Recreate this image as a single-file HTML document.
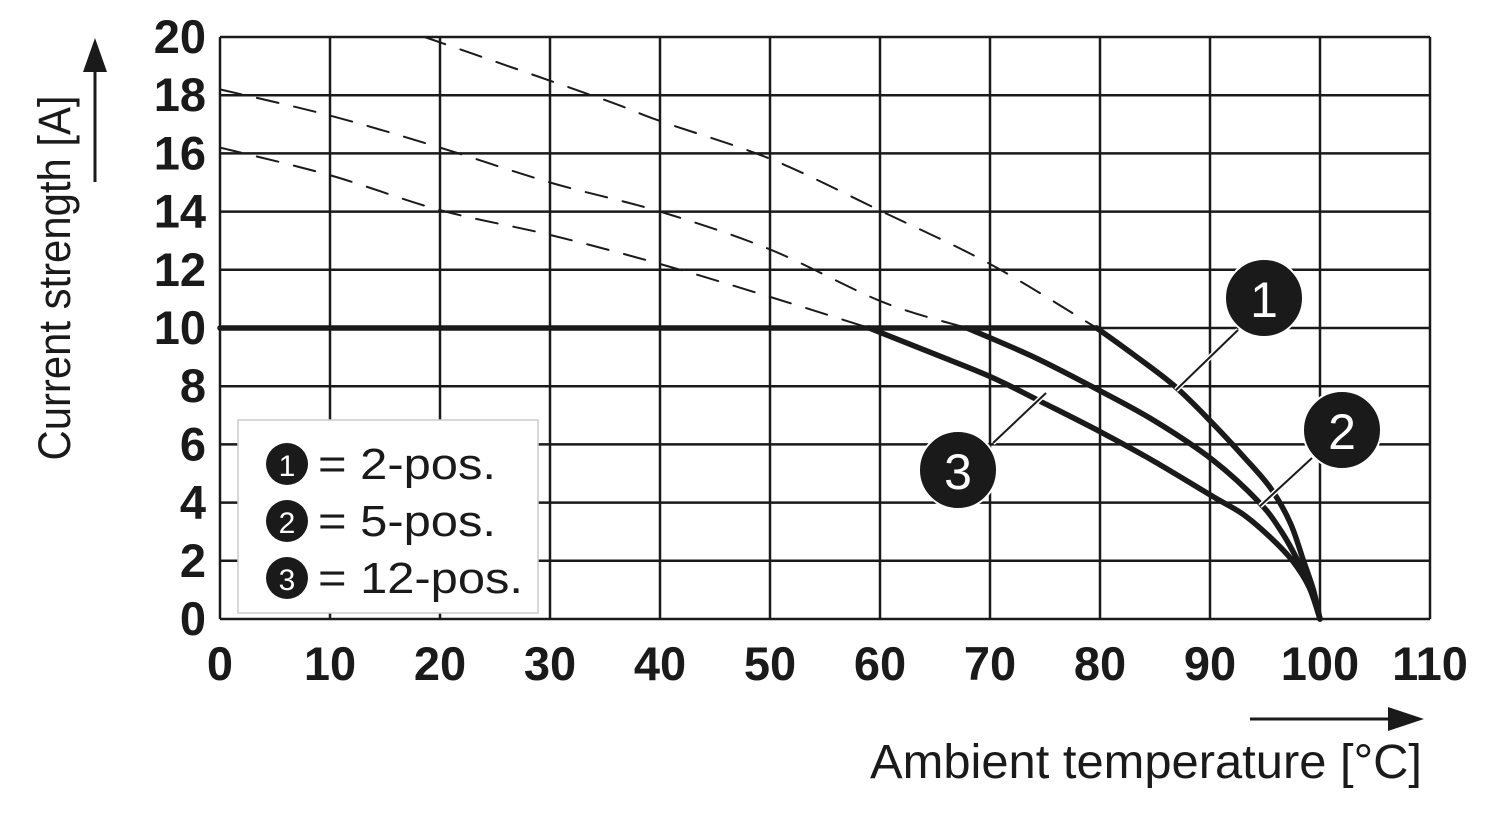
<!DOCTYPE html>
<html><head><meta charset="utf-8"><style>
html,body{margin:0;padding:0;background:#fff}
svg{display:block;font-family:"Liberation Sans",Arial,sans-serif}
</style></head><body>
<svg id="chart" width="1500" height="820" viewBox="0 0 1500 820" xmlns="http://www.w3.org/2000/svg">
<g id="grid"></g>
<g id="series"></g>
<g id="ticks"></g>
<g>
<text x="70" y="278" font-size="45" text-anchor="middle" transform="rotate(-90 70 278)" fill="#1a1a1a" textLength="365" lengthAdjust="spacingAndGlyphs">Current strength [A]</text>
<line x1="95" y1="182" x2="95" y2="70" stroke="#1a1a1a" stroke-width="3"/>
<polygon points="95,38 83,72 107,72" fill="#1a1a1a"/>
</g>
<g>
<text x="870" y="778" font-size="48" fill="#1a1a1a" textLength="552" lengthAdjust="spacingAndGlyphs">Ambient temperature [°C]</text>
<line x1="1250" y1="719" x2="1392" y2="719" stroke="#1a1a1a" stroke-width="3"/>
<polygon points="1424,719 1388,707 1388,731" fill="#1a1a1a"/>
</g>
<g>
<rect x="238" y="420" width="300" height="193" fill="#fff" stroke="#ccc" stroke-width="1.5"/>
<g><circle cx="287" cy="464" r="21" fill="#1a1a1a"/><text x="287" y="476" font-size="30" fill="#fff" text-anchor="middle">1</text><text x="318" y="479" font-size="44" fill="#1a1a1a" textLength="178" lengthAdjust="spacingAndGlyphs">= 2-pos.</text></g>
<g><circle cx="287" cy="521" r="21" fill="#1a1a1a"/><text x="287" y="533" font-size="30" fill="#fff" text-anchor="middle">2</text><text x="318" y="536" font-size="44" fill="#1a1a1a" textLength="178" lengthAdjust="spacingAndGlyphs">= 5-pos.</text></g>
<g><circle cx="287" cy="578" r="21" fill="#1a1a1a"/><text x="287" y="590" font-size="30" fill="#fff" text-anchor="middle">3</text><text x="318" y="593" font-size="44" fill="#1a1a1a" textLength="205" lengthAdjust="spacingAndGlyphs">= 12-pos.</text></g>
</g>
<g>
<line x1="1238" y1="330" x2="1176" y2="390" stroke="#fff" stroke-width="5"/><line x1="1238" y1="330" x2="1176" y2="390" stroke="#1a1a1a" stroke-width="2"/>
<line x1="1312" y1="458" x2="1260" y2="506" stroke="#fff" stroke-width="5"/><line x1="1312" y1="458" x2="1260" y2="506" stroke="#1a1a1a" stroke-width="2"/>
<line x1="993" y1="443" x2="1046" y2="393" stroke="#fff" stroke-width="5"/><line x1="993" y1="443" x2="1046" y2="393" stroke="#1a1a1a" stroke-width="2"/>
<g><circle cx="1264" cy="298" r="39" fill="#1a1a1a" stroke="#fff" stroke-width="2"/><text x="1264" y="317" font-size="50" fill="#fff" text-anchor="middle">1</text></g>
<g><circle cx="1342" cy="430" r="39" fill="#1a1a1a" stroke="#fff" stroke-width="2"/><text x="1342" y="449" font-size="50" fill="#fff" text-anchor="middle">2</text></g>
<g><circle cx="958" cy="470" r="39" fill="#1a1a1a" stroke="#fff" stroke-width="2"/><text x="958" y="489" font-size="50" fill="#fff" text-anchor="middle">3</text></g>
</g>
</svg>
<script>
const xTicks = [0,10,20,30,40,50,60,70,80,90,100,110];
const yTicks = [0,2,4,6,8,10,12,14,16,18,20];
const dash1T = [18.6,34.5,40.1,50.1,60.2,70,79.7];
const dash1I = [20,17.9,17.1,15.8,14,12.2,10];
const dash2T = [0,10,20,30,40,50,60.2,67.9];
const dash2I = [18.2,17.3,16.2,15.0,14.0,12.7,10.9,10];
const dash3T = [0,10,20,30,40,50,59];
const dash3I = [16.2,15.25,14.05,13.2,12.2,11.07,10];
const solid1T = [79.7,83,86.8,90.3,93,95.5,97.3,98.5,99.4,100];
const solid1I = [10,9.1,8,6.7,5.6,4.5,3.3,2.0,1.0,0];
const solid2T = [67.9,74,79.7,85,90.3,94.5,96.5,98,99.2,100];
const solid2I = [10,9,7.9,6.8,5.45,4.0,3.0,2.0,1.1,0];
const solid3T = [59,65,70.2,75,80.2,85,90.3,93,95.5,97.5,99,100];
const solid3I = [10,9.1,8.3,7.4,6.4,5.4,4.2,3.6,2.8,2.0,1.1,0];
const flatT = [0,79.7];
const flatI = [10,10];

const NS='http://www.w3.org/2000/svg';
const sx = v => 220 + v*11;
const sy = v => 619 - v*29.1;
function mk(tag, attrs, parent){const e=document.createElementNS(NS,tag);for(const k in attrs)e.setAttribute(k,attrs[k]);parent.appendChild(e);return e;}
const grid=document.getElementById('grid'), ticks=document.getElementById('ticks'), series=document.getElementById('series');
xTicks.forEach(t=>{
  const l=mk('line',{x1:sx(t),x2:sx(t),y1:sy(20),y2:sy(0),stroke:'#1a1a1a','stroke-width':2.5},grid);
  
  
  const tx=mk('text',{x:sx(t),y:680,'font-size':47,'font-weight':'bold','text-anchor':'middle',fill:'#1a1a1a'},ticks);
  tx.textContent=t;
  
  
});
yTicks.forEach(t=>{
  const l=mk('line',{x1:sx(0),x2:sx(110),y1:sy(t),y2:sy(t),stroke:'#1a1a1a','stroke-width':2.5},grid);
  
  
  const tx=mk('text',{x:206,y:sy(t)+16,'font-size':47,'font-weight':'bold','text-anchor':'end',fill:'#1a1a1a'},ticks);
  tx.textContent=t;
  
  
});
function pathD(T,I){
  const p=T.map((t,i)=>[sx(t),sy(I[i])]);
  let d='M'+p[0][0]+','+p[0][1];
  for(let i=0;i<p.length-1;i++){
    const p0=p[i-1]||p[i],p1=p[i],p2=p[i+1],p3=p[i+2]||p2;
    const c1=[p1[0]+(p2[0]-p0[0])/6,p1[1]+(p2[1]-p0[1])/6];
    const c2=[p2[0]-(p3[0]-p1[0])/6,p2[1]-(p3[1]-p1[1])/6];
    d+=' C'+c1+' '+c2+' '+p2;
  }
  return d;
}
function addLine(T,I,name,dashed){
  const e=mk('path',{d:pathD(T,I),fill:'none',stroke:'#1a1a1a','stroke-width':dashed?2:5.5,'stroke-linecap':'round'},series);
  if(dashed)e.setAttribute('stroke-dasharray','22 16');
  
  
}
addLine(dash1T,dash1I,'dashed-curve-2pos',true);
addLine(dash2T,dash2I,'dashed-curve-5pos',true);
addLine(dash3T,dash3I,'dashed-curve-12pos',true);
addLine(flatT,flatI,'rated-current-line',false);
addLine(solid1T,solid1I,'curve-2pos',false);
addLine(solid2T,solid2I,'curve-5pos',false);
addLine(solid3T,solid3I,'curve-12pos',false);
</script>
</body></html>
